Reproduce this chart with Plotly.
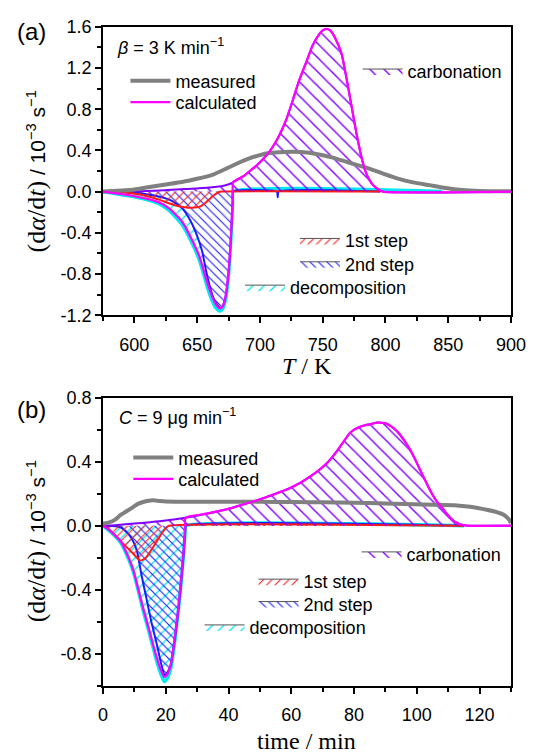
import plotly.graph_objects as go

# ---------------- (a) linear heating, beta = 3 K/min ----------------
T_meas_a = [575, 590, 600, 612, 625, 638, 650, 661, 670, 681, 690, 700, 707, 715, 725, 733,
            745, 758, 770, 784, 797, 810, 822, 835, 848, 861, 875, 900]
meas_a = [0.0, 0.01, 0.02, 0.045, 0.07, 0.094, 0.125, 0.158, 0.205, 0.268, 0.315, 0.355, 0.375,
          0.383, 0.386, 0.384, 0.366, 0.33, 0.285, 0.236, 0.18, 0.126, 0.09, 0.063, 0.035, 0.016,
          0.007, 0.004]

T_carb_a = [600, 620, 640, 660, 672, 678, 681, 687, 692, 697, 702, 707, 712, 716, 721, 726, 731,
            737, 742, 747, 750, 753, 756, 760, 765, 769, 773, 777, 781, 784, 787, 790, 794, 798, 900]
carb_a = [0.0, 0.012, 0.025, 0.04, 0.06, 0.085, 0.11, 0.15, 0.2, 0.25, 0.31, 0.378, 0.47, 0.56,
          0.7, 0.88, 1.07, 1.26, 1.42, 1.525, 1.565, 1.58, 1.565, 1.49, 1.34, 1.1, 0.83, 0.56,
          0.33, 0.2, 0.12, 0.065, 0.025, 0.0, 0.0]

T_calc_a = [575, 590, 600, 612, 620, 628, 638, 645, 652, 658, 662, 665, 668, 670, 672.5, 675,
            677, 678.3, 678.6, 681, 687, 692, 697, 702, 707, 712, 716, 721, 726, 731, 737, 742,
            747, 750, 753, 756, 760, 765, 769, 773, 777, 781, 784, 787, 790, 794, 798, 900]
calc_a = [0.0, -0.025, -0.045, -0.075, -0.105, -0.165, -0.29, -0.445, -0.635, -0.88, -1.02,
          -1.095, -1.135, -1.12, -1.03, -0.78, -0.41, -0.08, 0.09, 0.11, 0.15, 0.2, 0.25, 0.31,
          0.378, 0.47, 0.56, 0.7, 0.88, 1.07, 1.26, 1.42, 1.525, 1.565, 1.58, 1.565, 1.49, 1.34,
          1.1, 0.83, 0.56, 0.33, 0.2, 0.12, 0.065, 0.025, 0.0, 0.0]

T_dec_a = [575, 590, 600, 612, 620, 628, 638, 645, 652, 658, 662, 665, 668, 670, 672.5, 675,
           677, 678.3, 678.6, 845]
dec_a = [0.0, -0.03, -0.05, -0.085, -0.12, -0.185, -0.32, -0.475, -0.67, -0.92, -1.06, -1.13,
         -1.16, -1.145, -1.055, -0.81, -0.44, -0.1, 0.0, 0.0]

T_s1_a = [575, 590, 597, 605, 612, 620, 627, 633, 640, 646, 650, 653, 657, 661, 664, 667, 670, 796]
s1_a = [0.0, -0.005, -0.016, -0.03, -0.05, -0.08, -0.11, -0.135, -0.152, -0.157, -0.152, -0.14,
        -0.105, -0.06, -0.03, -0.006, 0.0, 0.0]

T_s2_a = [575, 600, 612, 622, 630, 638, 645, 650, 654, 658, 661, 664, 666, 668.5, 670, 672.5,
          675, 676.8, 678.3, 678.6, 713.5, 714.2, 714.9, 796]
s2_a = [0.0, -0.005, -0.03, -0.055, -0.09, -0.16, -0.29, -0.43, -0.58, -0.82, -0.96, -1.06,
        -1.1, -1.13, -1.12, -1.03, -0.79, -0.47, -0.09, 0.0, 0.0, -0.055, 0.0, 0.0]

# ---------------- (b) constant-rate run, C = 9 ug/min ----------------
t_meas_b = [0, 2, 4, 5.6, 7.5, 9.7, 11.3, 12.8, 14.5, 15.9, 18, 20, 30, 40, 50, 61, 70, 80, 90,
            102, 112, 117, 122.6, 125.5, 127.8, 129.3, 130]
meas_b = [0.012, 0.02, 0.04, 0.067, 0.09, 0.118, 0.138, 0.148, 0.156, 0.159, 0.155, 0.152, 0.15,
          0.15, 0.149, 0.148, 0.146, 0.143, 0.139, 0.132, 0.128, 0.118, 0.098, 0.085, 0.067,
          0.04, 0.016]

t_carb_b = [0, 4, 10, 15, 20, 26.3, 33, 40.5, 46, 50.8, 55, 59, 63, 66.2, 69, 71.3, 73.5, 75.4,
            77, 78.5, 80, 81.5, 83.5, 85.6, 87.5, 89.7, 91.3, 92.8, 94.4, 95.9, 97.5, 99, 100.5,
            102, 103.5, 105.1, 106.6, 108.2, 109.7, 111.3, 112.8, 114.3, 116, 130]
carb_b = [0.0, 0.003, 0.013, 0.022, 0.032, 0.05, 0.075, 0.108, 0.14, 0.17, 0.2, 0.23, 0.27, 0.31,
          0.35, 0.39, 0.44, 0.49, 0.535, 0.576, 0.6, 0.615, 0.628, 0.637, 0.645, 0.641, 0.628,
          0.606, 0.575, 0.535, 0.487, 0.433, 0.372, 0.31, 0.25, 0.19, 0.145, 0.108, 0.07, 0.037,
          0.017, 0.006, 0.0, 0.0]

t_calc_b = [0, 2.5, 5.6, 8.2, 9.7, 11.3, 12.8, 14.9, 16.9, 18.5, 19.5, 20.3, 21.5, 23.1, 24.6,
            25.6, 26.2, 26.3, 33, 40.5, 46, 50.8, 55, 59, 63, 66.2, 69, 71.3, 73.5, 75.4, 77,
            78.5, 80, 81.5, 83.5, 85.6, 87.5, 89.7, 91.3, 92.8, 94.4, 95.9, 97.5, 99, 100.5, 102,
            103.5, 105.1, 106.6, 108.2, 109.7, 111.3, 112.8, 114.3, 116, 130]
calc_b = [0.0, -0.035, -0.096, -0.2, -0.28, -0.4, -0.515, -0.665, -0.81, -0.905, -0.945, -0.935,
          -0.875, -0.67, -0.4, -0.18, -0.02, 0.05, 0.075, 0.108, 0.14, 0.17, 0.2, 0.23, 0.27,
          0.31, 0.35, 0.39, 0.44, 0.49, 0.535, 0.576, 0.6, 0.615, 0.628, 0.637, 0.645, 0.641,
          0.628, 0.606, 0.575, 0.535, 0.487, 0.433, 0.372, 0.31, 0.25, 0.19, 0.145, 0.108, 0.07,
          0.037, 0.017, 0.006, 0.0, 0.0]

t_dec_b = [0, 2.5, 5.6, 8.2, 9.7, 11.3, 12.8, 14.9, 16.9, 18.5, 19.5, 20.3, 21.5, 23.1, 24.6,
           25.6, 26.2, 26.4, 115]
dec_b = [0.0, -0.04, -0.105, -0.21, -0.29, -0.41, -0.53, -0.68, -0.83, -0.93, -0.975, -0.96,
         -0.9, -0.69, -0.42, -0.2, -0.035, 0.0, 0.0]

t_s1_b = [0, 1.5, 4.6, 7.7, 9.7, 11, 11.8, 12.8, 13.8, 15.9, 18.5, 20, 21, 115]
s1_b = [0.0, -0.015, -0.076, -0.137, -0.177, -0.205, -0.218, -0.212, -0.198, -0.137, -0.055,
        -0.015, 0.0, 0.0]

t_s2_b = [0, 3, 5.6, 8, 9.7, 10.8, 12.3, 13.8, 15.4, 16.9, 18.5, 19.7, 21.5, 23.1, 24.6, 25.6,
          26.2, 26.4, 115]
s2_b = [0.0, -0.002, -0.01, -0.05, -0.1, -0.157, -0.31, -0.45, -0.6, -0.72, -0.86, -0.94, -0.88,
        -0.68, -0.42, -0.2, -0.035, 0.0, 0.0]

# ---------------- tick labels ----------------
xticks_a = [600, 650, 700, 750, 800, 850, 900]
yticks_a = [-1.2, -0.8, -0.4, 0.0, 0.4, 0.8, 1.2, 1.6]
yticktext_a = ["-1.2", "-0.8", "-0.4", "0.0", "0.4", "0.8", "1.2", "1.6"]
xticks_b = [0, 20, 40, 60, 80, 100, 120]
yticks_b = [-0.8, -0.4, 0.0, 0.4, 0.8]
yticktext_b = ["-0.8", "-0.4", "0.0", "0.4", "0.8"]

W, H = 544, 755
SANS = "Liberation Sans"
SERIF = "Liberation Serif"

C_MEAS = "#808080"
C_CALC = "#ff00ff"
C_CARB = "#8000ff"
C_S1 = "#ff1a1a"
C_S2 = "#1a1aff"
C_DEC = "#00e8f0"
CLEAR = "rgba(0,0,0,0)"

HATCH = {
    "carb": dict(shape="\\", fgcolor=C_CARB, size=10, solidity=0.14),
    "s1": dict(shape="/", fgcolor=C_S1, size=6, solidity=0.18),
    "s2": dict(shape="\\", fgcolor=C_S2, size=6, solidity=0.18),
    "dec": dict(shape="/", fgcolor=C_DEC, size=8, solidity=0.16),
}


def px(x):
    return x / W


def py(y):
    return 1 - y / H


def area(x, y, color, key, xa, ya, width=2.0, bg=CLEAR):
    pat = dict(HATCH[key], bgcolor=bg, fillmode="replace")
    return go.Scatter(x=x, y=y, xaxis=xa, yaxis=ya, mode="lines",
                      line=dict(color=color, width=width, shape="spline", smoothing=0.5),
                      fill="tozeroy", fillcolor=CLEAR, fillpattern=pat,
                      showlegend=False, hoverinfo="skip")


def key_box(name, key, legend, xa, ya):
    pat = dict(HATCH[key], bgcolor=CLEAR, fillmode="replace")
    return go.Scatter(x=[None], y=[None], xaxis=xa, yaxis=ya, mode="lines", name=name,
                      line=dict(color="#555555", width=1), fill="tozeroy",
                      fillcolor=CLEAR, fillpattern=pat, legend=legend,
                      showlegend=True, hoverinfo="skip")


def line(x, y, color, width, name, legend, xa, ya):
    return go.Scatter(x=x, y=y, xaxis=xa, yaxis=ya, mode="lines", name=name,
                      line=dict(color=color, width=width, shape="spline", smoothing=0.5),
                      legend=legend, showlegend=True, hoverinfo="skip")


fig = go.Figure()

# one legend box per key so each entry sits where it belongs inside its panel;
# values are (left edge of the key symbol, vertical centre of the entry) in pixels
KEY_POS = {
    "a": {"measured": (130, 70), "calculated": (130, 92), "carbonation": (371, 60),
          "1st step": (306, 234), "2nd step": (306, 258), "decomposition": (249, 282)},
    "b": {"measured": (133, 457), "calculated": (133, 479), "carbonation": (370, 556),
          "1st step": (263, 584), "2nd step": (263, 607), "decomposition": (207, 631)},
}

# in (a) the 2nd-step hatch hides the decomposition hatch beneath it
panels = [
    ("a", "x", "y", (T_dec_a, dec_a), (T_s2_a, s2_a), (T_s1_a, s1_a), (T_carb_a, carb_a),
     (T_meas_a, meas_a), (T_calc_a, calc_a), "white"),
    ("b", "x2", "y2", (t_dec_b, dec_b), (t_s2_b, s2_b), (t_s1_b, s1_b), (t_carb_b, carb_b),
     (t_meas_b, meas_b), (t_calc_b, calc_b), CLEAR),
]

leg_common = dict(bgcolor=CLEAR, borderwidth=0, itemwidth=40, tracegroupgap=0,
                  font=dict(family=SANS, size=18, color="black"), xanchor="left",
                  yanchor="top", itemclick=False, itemdoubleclick=False)
legends = {}
n_leg = 0


def new_legend(panel, name):
    global n_leg
    n_leg += 1
    lid = "legend" if n_leg == 1 else f"legend{n_leg}"
    x0, yc = KEY_POS[panel][name]
    legends[lid] = dict(leg_common, x=px(x0 - 5), y=py(yc - 16))
    return lid


for pn, xa, ya, dec, s2, s1, carb, meas, calc, s2_bg in panels:
    fig.add_trace(area(*dec, C_DEC, "dec", xa, ya, width=3.5))
    fig.add_trace(area(*s2, C_S2, "s2", xa, ya, bg=s2_bg))
    fig.add_trace(area(*s1, C_S1, "s1", xa, ya))
    fig.add_trace(area(*carb, C_CARB, "carb", xa, ya))
    fig.add_trace(line(*meas, C_MEAS, 4, "measured", new_legend(pn, "measured"), xa, ya))
    fig.add_trace(line(*calc, C_CALC, 2.2, "calculated", new_legend(pn, "calculated"), xa, ya))
    fig.add_trace(key_box("carbonation", "carb", new_legend(pn, "carbonation"), xa, ya))
    fig.add_trace(key_box("1st step", "s1", new_legend(pn, "1st step"), xa, ya))
    fig.add_trace(key_box("2nd step", "s2", new_legend(pn, "2nd step"), xa, ya))
    fig.add_trace(key_box("decomposition", "dec", new_legend(pn, "decomposition"), xa, ya))

fig.update_layout(**legends)

axis_common = dict(showgrid=False, zeroline=False, showline=True, linecolor="black",
                   linewidth=1.8, mirror=True, ticks="outside", ticklen=6, tickwidth=1.5,
                   tickcolor="black", tickfont=dict(family=SANS, size=18, color="black"))

x_dom = [px(101.7), px(525.3)]
fig.update_layout(
    xaxis=dict(axis_common, domain=x_dom, anchor="y", range=[575, 900], tickvals=xticks_a,
               minor=dict(dtick=25, tick0=0, ticks="outside", ticklen=4, tickcolor="black"),
               ticklabelstandoff=6),
    yaxis=dict(axis_common, domain=[py(313.5), py(17.3)], anchor="x", range=[-1.2, 1.6],
               tickvals=yticks_a, ticktext=yticktext_a,
               minor=dict(dtick=0.2, tick0=0, ticks="outside", ticklen=4, tickcolor="black")),
    xaxis2=dict(axis_common, domain=x_dom, anchor="y2", range=[0, 130], tickvals=xticks_b,
                minor=dict(dtick=10, tick0=0, ticks="outside", ticklen=4, tickcolor="black"),
                ticklabelstandoff=6),
    yaxis2=dict(axis_common, domain=[py(694), py(398.3)], anchor="x2", range=[-1.0, 0.8],
                tickvals=yticks_b, ticktext=yticktext_b,
                minor=dict(dtick=0.2, tick0=0, ticks="outside", ticklen=4, tickcolor="black")),
)

ytitle = ("<span style='font-family:Liberation Serif;font-size:26px'>(d<i>α</i>/d<i>t</i>)</span>"
          " / 10<sup>−3</sup> s<sup>−1</sup>")
annotations = [
    dict(text="(a)", x=px(27), y=py(22), font=dict(family=SANS, size=24)),
    dict(text="(b)", x=px(27), y=py(410), font=dict(family=SANS, size=24)),
    dict(text="<i>β</i> = 3 K min<sup>−1</sup>", x=px(114), y=py(38), xanchor="left",
         font=dict(family=SANS, size=18)),
    dict(text="<i>C</i> = 9 μg min<sup>−1</sup>", x=px(116), y=py(418), xanchor="left",
         font=dict(family=SANS, size=18)),
    dict(text="<i>T</i> / K", x=px(313.5), y=py(366), font=dict(family=SERIF, size=24)),
    dict(text="time / min", x=px(313.5), y=py(751), font=dict(family=SERIF, size=24)),
    dict(text=ytitle, x=px(33), y=py(166), textangle=-90, font=dict(family=SANS, size=21)),
    dict(text=ytitle, x=px(33), y=py(546), textangle=-90, font=dict(family=SANS, size=21)),
]
for a in annotations:
    a.setdefault("xanchor", "center")
    a.setdefault("yanchor", "middle")
    a.update(xref="paper", yref="paper", showarrow=False)
    a["font"]["color"] = "black"

fig.update_layout(annotations=annotations, width=W, height=H,
                  margin=dict(l=0, r=0, t=0, b=0), paper_bgcolor="white",
                  plot_bgcolor="white", showlegend=True)

fig.write_html("out.html", include_plotlyjs=True, config={"displayModeBar": False})
